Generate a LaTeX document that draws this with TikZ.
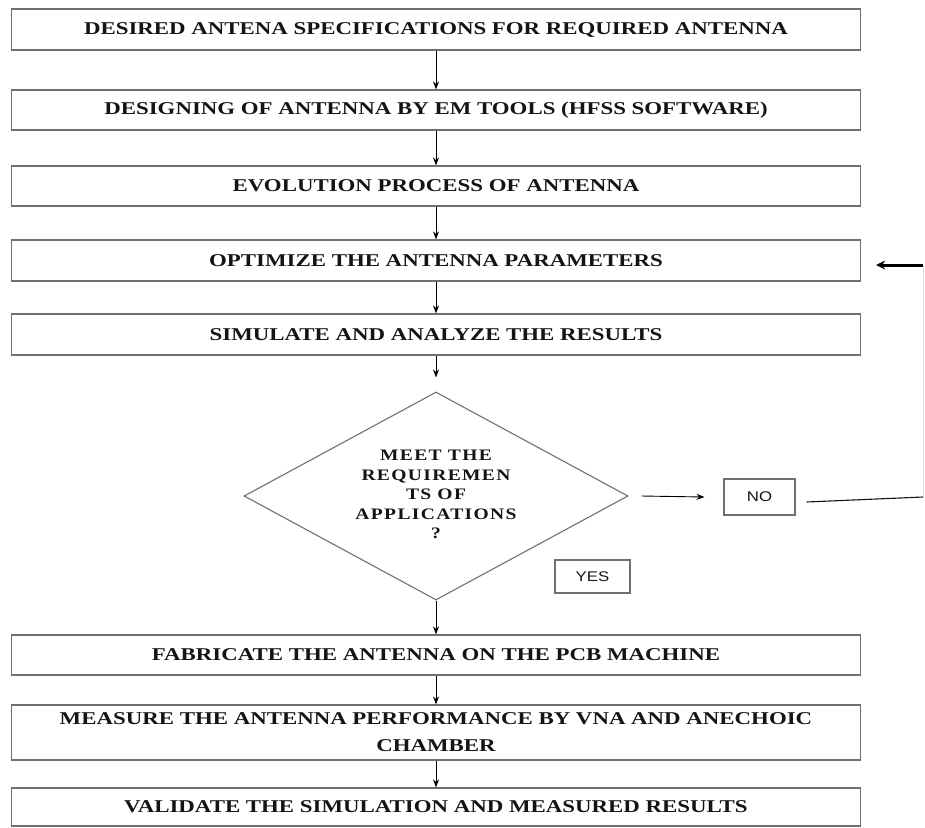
\documentclass[tikz,border=0pt]{standalone}
\usepackage{fontspec}
\setmainfont{Liberation Serif}
\newfontfamily\answerfont{Liberation Sans}
\usepackage{graphicx}
\usepackage{xcolor}
\usetikzlibrary{shapes.geometric,calc,arrows.meta}

\definecolor{boxgray}{RGB}{112,112,112}
\definecolor{inkblack}{RGB}{20,20,20}

\newcommand{\widetxt}[1]{\scalebox{1.27}[1]{#1}}
\newcommand{\decisiontxt}[1]{\scalebox{1.22}[1]{\addfontfeature{LetterSpace=7}\begin{tabular}{@{}c@{}}#1\end{tabular}}}

\tikzset{
  stepbox/.style = {draw = boxgray, line width = 1.2pt, minimum width = 849pt,
    minimum height = #1, inner sep = 0pt, text = inkblack,
    font = \bfseries\fontsize{18}{27}\selectfont, align = center},
  stepbox/.default = 41pt,
  decisionbox/.style = {draw = boxgray, line width = 1.1pt, shape = diamond, aspect = 1.846,
    minimum width = 384pt, minimum height = 208pt, inner sep = 0pt, text = inkblack,
    font = \bfseries\fontsize{16}{19.5}\selectfont},
  answerbox/.style = {draw = boxgray, line width = 1.1pt, inner sep = 0pt, text = inkblack,
    font = \answerfont\fontsize{14}{16}\selectfont},
  flow/.style = {-{Stealth[length = 8pt, width = 6pt]}, line width = 0.9pt, black}
}

\begin{document}
\begin{tikzpicture}[x = 1pt, y = -1pt]
\useasboundingbox[fill = white] (0, 0) rectangle (925, 827);

\node[stepbox] (spec) at (436, 29.5) {\widetxt{DESIRED ANTENA SPECIFICATIONS FOR REQUIRED ANTENNA}};
\node[stepbox = 40pt] (design) at (436, 110) {\widetxt{DESIGNING OF ANTENNA BY EM TOOLS (HFSS SOFTWARE)}};
\node[stepbox = 40pt] (evolve) at (436, 186) {\widetxt{EVOLUTION PROCESS OF ANTENNA}};
\node[stepbox] (optimize) at (436, 260.5) {\widetxt{OPTIMIZE THE ANTENNA PARAMETERS}};
\node[stepbox] (simulate) at (436, 334.5) {\widetxt{SIMULATE AND ANALYZE THE RESULTS}};

\node[decisionbox] (meet) at (436, 496) {\decisiontxt{MEET THE\\REQUIREMEN\\TS OF\\APPLICATIONS\\?}};
\node[answerbox, minimum width = 71pt, minimum height = 36pt] (no) at (759.5, 497) {\scalebox{1.2}[1]{NO}};
\node[answerbox, minimum width = 75pt, minimum height = 33pt] (yes) at (592.5, 576.5) {\scalebox{1.2}[1]{YES}};

\node[stepbox = 40pt] (fabricate) at (436, 655) {\widetxt{FABRICATE THE ANTENNA ON THE PCB MACHINE}};
\node[stepbox = 55pt] (measure) at (436, 732.5) {\widetxt{\begin{tabular}{@{}c@{}}MEASURE THE ANTENNA PERFORMANCE BY VNA AND ANECHOIC\\CHAMBER\end{tabular}}};
\node[stepbox = 38pt] (validate) at (436, 807) {\widetxt{VALIDATE THE SIMULATION AND MEASURED RESULTS}};

\draw[flow] (spec) -- (design);
\draw[flow] (design) -- (evolve);
\draw[flow] (evolve) -- (optimize);
\draw[flow] (optimize) -- (simulate);
\draw[flow] (simulate.south) -- ($(meet.north)+(0, -14)$);
\draw[flow] (meet.south) -- (fabricate.north);
\draw[flow] (fabricate) -- (measure);
\draw[flow] (measure) -- (validate);

\draw[flow] ($(meet.east)+(13, 0)$) -- ($(no.west)+(-19, 0)$);

\coordinate (backlow) at (923, 497);
\coordinate (backhigh) at (923, 265);
\draw[line width = 1.1pt, inkblack] ($(no.east)+(11, 5)$) -- (backlow);
\draw[line width = 0.5pt, black!12] (backlow) -- (backhigh);
\draw[-{Stealth[length = 9pt, width = 9pt]}, line width = 3pt, black] (backhigh) -- ($(optimize.east)+(15, 4.5)$);

\end{tikzpicture}
\end{document}
